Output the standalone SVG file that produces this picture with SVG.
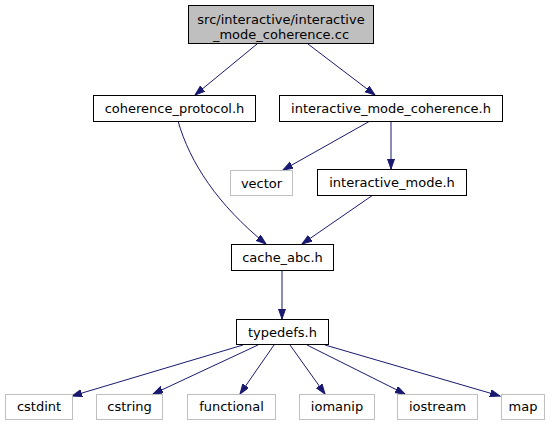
<svg xmlns="http://www.w3.org/2000/svg" width="557" height="425" viewBox="0 0 557 425">
<defs>
<style>
text{font-family:"DejaVu Sans","Liberation Sans",sans-serif;font-size:13px;text-anchor:middle;fill:#000}
.n rect{fill:#fff;stroke:#000;stroke-width:1}
.x rect{fill:#fff;stroke:#bfbfbf;stroke-width:1}
.top rect{fill:#bfbfbf;stroke:#000;stroke-width:1}
.e path{fill:none;stroke:#191970;stroke-width:1;marker-end:url(#arr)}
</style>
<marker id="arr" markerUnits="userSpaceOnUse" markerWidth="11" markerHeight="8" refX="10" refY="3.5" orient="auto">
<path d="M0,0 L10,3.5 L0,7 z" fill="#191970" stroke="#191970" stroke-width="1"/>
</marker>
</defs>
<rect width="557" height="425" fill="#fff"/>
<g class="e" id="edges">
<path d="M257,44 L195,95"/>
<path d="M308,44 L375,95"/>
<path d="M178,121 C190,163 218,205 266,244"/>
<path d="M370,121 L283,170"/>
<path d="M391,121 L391,169"/>
<path d="M373,195 L302,244"/>
<path d="M282,270 L282,319"/>
<path d="M243,345 L72,396"/>
<path d="M258,345 L153,394"/>
<path d="M274,345 L240,394"/>
<path d="M290,345 L325,394"/>
<path d="M307,345 L405,394"/>
<path d="M325,345 L500,396"/>
</g>
<g id="node_top" class="top"><rect x="188.5" y="5.5" width="185" height="38"/><text x="281" y="24">src/interactive/interactive</text><text x="281" y="39">_mode_coherence.cc</text></g>
<g id="node_coherence_protocol" class="n"><rect x="93.5" y="95.5" width="162" height="26"/><text x="174.5" y="113">coherence_protocol.h</text></g>
<g id="node_imc" class="n"><rect x="279.5" y="95.5" width="223" height="26"/><text x="391" y="113">interactive_mode_coherence.h</text></g>
<g id="node_vector" class="x"><rect x="230.5" y="170.5" width="62" height="25"/><text x="261.5" y="187.5">vector</text></g>
<g id="node_interactive_mode" class="n"><rect x="317.5" y="169.5" width="149" height="26"/><text x="392" y="187">interactive_mode.h</text></g>
<g id="node_cache_abc" class="n"><rect x="231.5" y="244.5" width="102" height="26"/><text x="282.5" y="262">cache_abc.h</text></g>
<g id="node_typedefs" class="n"><rect x="236.5" y="319.5" width="92" height="25"/><text x="282.5" y="336.5">typedefs.h</text></g>
<g id="node_cstdint" class="x"><rect x="5.5" y="394.5" width="67" height="25"/><text x="39" y="411">cstdint</text></g>
<g id="node_cstring" class="x"><rect x="96.5" y="394.5" width="66" height="25"/><text x="129.5" y="411">cstring</text></g>
<g id="node_functional" class="x"><rect x="187.5" y="394.5" width="88" height="25"/><text x="231.5" y="411">functional</text></g>
<g id="node_iomanip" class="x"><rect x="299.5" y="394.5" width="75" height="25"/><text x="337" y="411">iomanip</text></g>
<g id="node_iostream" class="x"><rect x="397.5" y="394.5" width="80" height="25"/><text x="437.5" y="411">iostream</text></g>
<g id="node_map" class="x"><rect x="501.5" y="394.5" width="43" height="25"/><text x="523" y="411">map</text></g>
</svg>
